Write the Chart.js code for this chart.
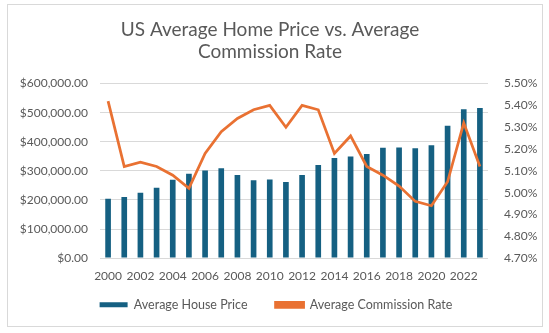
<!DOCTYPE html>
<html>
<head>
<meta charset="utf-8">
<script src="https://cdn.jsdelivr.net/npm/chart.js@4"></script>
<style>
  html, body { margin: 0; padding: 0; background: #fff; }
  #wrap { position: relative; width: 549px; height: 333px; }
  #frame { position: absolute; left: 7px; top: 4px; width: 534px; height: 321px; border: 1px solid #d9d9d9; pointer-events: none; }
</style>
</head>
<body>
<div id="wrap">
  <canvas id="grafico" width="549" height="333"></canvas>
  <div id="frame"></div>
</div>
<script>
// dados
const anos = ['2000','2001','2002','2003','2004','2005','2006','2007','2008','2009','2010','2011',
              '2012','2013','2014','2015','2016','2017','2018','2019','2020','2021','2022','2023'];
const precoMedio = [204000, 210000, 225000, 242000, 269000, 290000, 301000, 309000, 286000, 268000, 270000, 262000,
                    286000, 320000, 344000, 349000, 358000, 379000, 380000, 378000, 388000, 455000, 512000, 516000];
const taxaComissao = [5.42, 5.12, 5.14, 5.12, 5.08, 5.02, 5.18, 5.28, 5.34, 5.38, 5.40, 5.30,
                      5.40, 5.38, 5.18, 5.26, 5.12, 5.08, 5.03, 4.96, 4.94, 5.05, 5.32, 5.12];

const cinza = '#595959';
const fonte = "Lato, 'Open Sans', sans-serif";

// empurra a legenda um pouco para a direita, como no original
const ajusteLegenda = {
  id: 'ajusteLegenda',
  afterLayout(chart) {
    chart.legend.left += 6;
    chart.legend.right += 6;
  }
};

const ctx = document.getElementById('grafico').getContext('2d');
new Chart(ctx, {
  data: {
    labels: anos,
    datasets: [
      {
        type: 'line',
        label: 'Average Commission Rate',
        data: taxaComissao,
        yAxisID: 'y1',
        borderColor: '#E97132',
        backgroundColor: '#E97132',
        borderWidth: 2.75,
        pointRadius: 0,
        tension: 0,
        order: 1
      },
      {
        type: 'bar',
        label: 'Average House Price',
        data: precoMedio,
        yAxisID: 'y',
        backgroundColor: '#156082',
        barPercentage: 0.7,
        categoryPercentage: 0.5,
        order: 2
      }
    ]
  },
  plugins: [ajusteLegenda],
  options: {
    responsive: false,
    animation: false,
    layout: { padding: { left: 0, right: 9, top: 0, bottom: 12 } },
    plugins: {
      title: {
        display: true,
        text: ['US Average Home Price vs. Average', 'Commission Rate'],
        color: cinza,
        font: { family: fonte, size: 19, weight: 'normal', lineHeight: 1.2 },
        padding: { top: 18, bottom: 20 }
      },
      legend: {
        position: 'bottom',
        reverse: true,
        labels: {
          color: cinza,
          font: { family: fonte, size: 12.5 },
          boxWidth: 28,
          boxHeight: 5,
          padding: 12,
          generateLabels: function (chart) {
            const itens = Chart.defaults.plugins.legend.labels.generateLabels(chart);
            // um pouco mais de espaço entre os dois itens
            itens.forEach(it => { if (it.datasetIndex === 1) it.text = it.text + '     '; });
            return itens;
          }
        }
      },
      tooltip: { enabled: false }
    },
    scales: {
      x: {
        grid: { display: false },
        border: { display: false },
        ticks: {
          color: cinza,
          font: { family: fonte, size: 12 },
          autoSkip: false,
          maxRotation: 0,
          callback: function (v, i) { return i % 2 === 0 ? anos[i] : ''; }
        }
      },
      y: {
        position: 'left',
        min: 0,
        max: 600000,
        afterFit: function (s) { s.width = 100; },
        grid: { color: '#d9d9d9', drawTicks: false },
        border: { display: false },
        ticks: {
          stepSize: 100000,
          color: cinza,
          padding: 12,
          font: { family: fonte, size: 12 },
          callback: v => '$' + v.toLocaleString('en-US', { minimumFractionDigits: 2, maximumFractionDigits: 2 })
        }
      },
      y1: {
        position: 'right',
        min: 4.7,
        max: 5.5,
        afterFit: function (s) { s.width = 52; },
        grid: { display: false },
        border: { display: false },
        ticks: {
          stepSize: 0.1,
          color: cinza,
          padding: 8,
          font: { family: fonte, size: 12 },
          callback: v => v.toFixed(2) + '%'
        }
      }
    }
  }
});
</script>
</body>
</html>
